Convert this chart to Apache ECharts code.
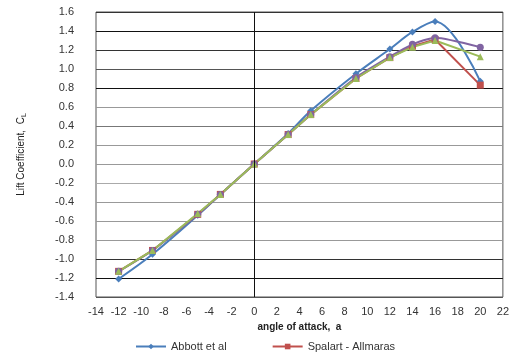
<!DOCTYPE html>
<html>
<head>
<meta charset="utf-8">
<script src="https://cdn.jsdelivr.net/npm/echarts@6/dist/echarts.min.js"></script>
<style>
  html, body { margin: 0; padding: 0; background: #fff; }
  #chart { width: 512px; height: 354px; }
</style>
</head>
<body>
<div id="chart"></div>
<script>
// angle of attack (deg)
const angles = [-12, -9, -5, -3, 0, 3, 5, 9, 12, 14, 16, 20]
// lift coefficient per series
const abbott = [-1.21, -0.95, -0.54, -0.32, 0, 0.32, 0.56, 0.95, 1.21, 1.39, 1.50, 0.87]
const spalart = [-1.13, -0.91, -0.53, -0.32, 0, 0.31, 0.52, 0.90, 1.12, 1.24, 1.31, 0.83]
const modelC = [-1.13, -0.91, -0.53, -0.32, 0, 0.31, 0.52, 0.91, 1.13, 1.26, 1.33, 1.23]
const modelD = [-1.13, -0.91, -0.52, -0.32, 0, 0.31, 0.52, 0.90, 1.12, 1.23, 1.30, 1.13]

const pairs = ys => angles.map((a, i) => [a, ys[i]])

const chart = echarts.init(document.getElementById('chart'))

const labelFont = { fontFamily: 'Liberation Sans, Arial, sans-serif', fontSize: 11, color: '#333' }

const option = {
  animation: false,
  grid: {
    left: 96, right: 6, top: 12, bottom: 57,
    show: true,
    borderColor: '#555',
    borderWidth: 1
  },
  legend: {
    data: ['Abbott et al', 'Spalart - Allmaras'],
    left: 130,
    top: 336,
    itemWidth: 30,
    itemHeight: 7,
    itemGap: 45,
    textStyle: { ...labelFont, fontSize: 11 }
  },
  xAxis: {
    type: 'value',
    min: -14, max: 22, interval: 2,
    name: 'angle of attack,  a',
    nameLocation: 'middle',
    nameGap: 22,
    nameTextStyle: { fontFamily: 'Liberation Sans, Arial, sans-serif', fontSize: 10, fontWeight: 'bold', color: '#222' },
    axisLine: { show: false },
    axisTick: { show: false },
    axisLabel: { ...labelFont, margin: 9 },
    splitLine: { show: false }
  },
  yAxis: {
    type: 'value',
    min: -1.4, max: 1.6, interval: 0.2,
    name: '{a|Lift Coefficient,  C}{s|L}',
    nameLocation: 'middle',
    nameGap: 68,
    nameTextStyle: {
      rich: {
        a: { fontFamily: 'Liberation Sans Narrow, Arial Narrow, sans-serif', fontSize: 10, color: '#222' },
        s: { fontFamily: 'Liberation Sans Narrow, Arial Narrow, sans-serif', fontSize: 7, color: '#222', padding: [6, 0, 0, 0] }
      }
    },
    axisLine: { show: false },
    axisTick: { show: false },
    axisLabel: { ...labelFont, margin: 22, formatter: v => v.toFixed(1) },
    splitLine: {
      lineStyle: {
        width: 1,
        color: ['#555', '#111', '#333', '#999', '#999', '#999', '#aaa', '#999', '#999', '#777', '#999', '#111', '#555', '#333', '#111', '#333']
      }
    }
  },
  series: [
    {
      name: 'Abbott et al',
      type: 'line',
      data: pairs(abbott),
      smooth: 0.35,
      symbol: 'diamond',
      symbolSize: 7,
      color: '#4a7ebb',
      lineStyle: { width: 2 },
      markLine: {
        silent: true,
        symbol: 'none',
        label: { show: false },
        lineStyle: { color: '#111', width: 1, type: 'solid' },
        data: [{ xAxis: 0 }]
      }
    },
    {
      name: 'Spalart - Allmaras',
      type: 'line',
      data: pairs(spalart),
      symbol: 'rect',
      symbolSize: 7,
      color: '#c0504d',
      lineStyle: { width: 2 }
    },
    {
      name: 'Model C',
      type: 'line',
      data: pairs(modelC),
      smooth: 0.2,
      symbol: 'circle',
      symbolSize: 7,
      color: '#8064a2',
      lineStyle: { width: 2 }
    },
    {
      name: 'Model D',
      type: 'line',
      data: pairs(modelD),
      symbol: 'triangle',
      symbolSize: 7,
      color: '#9bbb59',
      lineStyle: { width: 2 }
    }
  ]
}

chart.setOption(option)
</script>
</body>
</html>
